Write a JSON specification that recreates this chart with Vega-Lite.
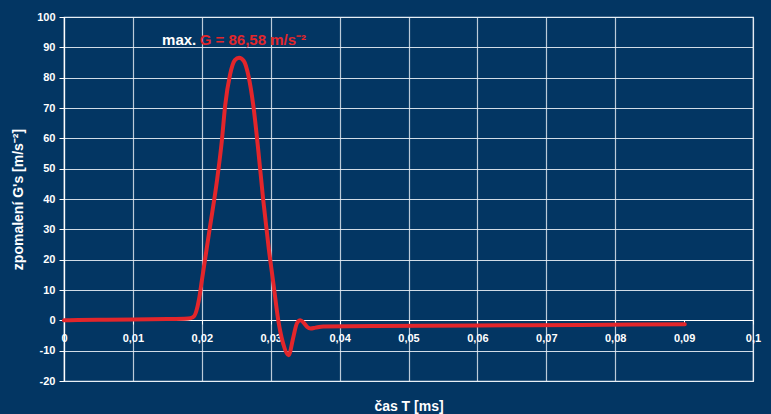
{
  "$schema": "https://vega.github.io/schema/vega-lite/v6.json",
  "width": 689,
  "height": 364,
  "autosize": {"type": "none"},
  "padding": {"left": 64, "top": 17, "right": 18, "bottom": 33},
  "background": "#033663",
  "config": {
    "font": "Liberation Sans",
    "view": {"stroke": "#e8eef5", "strokeWidth": 1.2},
    "axis": {
      "labelColor": "white",
      "labelFont": "Liberation Sans",
      "labelFontWeight": "bold",
      "labelFontSize": 11,
      "labelOverlap": false,
      "titleColor": "white",
      "titleFont": "Liberation Sans",
      "titleFontWeight": "bold",
      "titleFontSize": 14,
      "domainColor": "white",
      "domainWidth": 1.2,
      "tickColor": "white",
      "gridColor": "#e8eef5",
      "gridOpacity": 0.9,
      "gridWidth": 1.2
    }
  },
  "layer": [
    {
      "data": {
        "values": [
          {"t": 0, "g": 0},
          {"t": 0.002, "g": 0.1},
          {"t": 0.005, "g": 0.2},
          {"t": 0.01, "g": 0.3},
          {"t": 0.015, "g": 0.4},
          {"t": 0.018, "g": 0.6},
          {"t": 0.0187, "g": 1.0},
          {"t": 0.0192, "g": 3},
          {"t": 0.0196, "g": 7},
          {"t": 0.02, "g": 13},
          {"t": 0.0206, "g": 22},
          {"t": 0.0212, "g": 31},
          {"t": 0.0222, "g": 46},
          {"t": 0.0229, "g": 59},
          {"t": 0.0234, "g": 71},
          {"t": 0.0241, "g": 81},
          {"t": 0.0248, "g": 85.8},
          {"t": 0.0254, "g": 86.58},
          {"t": 0.0261, "g": 85.5},
          {"t": 0.0268, "g": 80.3},
          {"t": 0.0275, "g": 70.4},
          {"t": 0.0282, "g": 56},
          {"t": 0.0289, "g": 40},
          {"t": 0.0297, "g": 24},
          {"t": 0.0304, "g": 12},
          {"t": 0.0311, "g": 0},
          {"t": 0.0318, "g": -7.6},
          {"t": 0.0326, "g": -11.5},
          {"t": 0.0333, "g": -5.4},
          {"t": 0.0338, "g": -1},
          {"t": 0.0343, "g": 0},
          {"t": 0.0348, "g": -0.8},
          {"t": 0.0353, "g": -2.2},
          {"t": 0.0358, "g": -2.7},
          {"t": 0.0365, "g": -2.4},
          {"t": 0.0376, "g": -2.0},
          {"t": 0.045, "g": -1.9},
          {"t": 0.06, "g": -1.7},
          {"t": 0.075, "g": -1.5},
          {"t": 0.0901, "g": -1.3}
        ]
      },
      "mark": {"type": "line", "color": "#e3262b", "strokeWidth": 4, "interpolate": "monotone", "strokeCap": "round"},
      "encoding": {
        "x": {
          "field": "t",
          "type": "quantitative",
          "scale": {"domain": [0, 0.1], "nice": false},
          "axis": {
            "title": "čas T [ms]",
            "values": [0, 0.01, 0.02, 0.03, 0.04, 0.05, 0.06, 0.07, 0.08, 0.09, 0.1],
            "tickCount": 11,
            "labelExpr": "replace(format(datum.value, '~g'), '.', ',')",
            "offset": -61,
            "tickSize": 4,
            "labelPadding": 8,
            "labelFlush": false,
            "titleY": 86,
            "titleBaseline": "middle",
            "gridOpacity": {"condition": {"test": "abs(datum.value - 0.09) < 0.001", "value": 0}, "value": 0.9}
          }
        },
        "y": {
          "field": "g",
          "type": "quantitative",
          "scale": {"domain": [-20, 100], "nice": false},
          "axis": {
            "title": "zpomalení G's [m/s⁻²]",
            "values": [-20, -10, 0, 10, 20, 30, 40, 50, 60, 70, 80, 90, 100],
            "tickCount": 13,
            "labelExpr": "'' + datum.value",
            "tickSize": 5,
            "labelPadding": 4,
            "titleX": -46,
            "titleY": 182,
            "titleAngle": -90,
            "titleAlign": "center",
            "titleBaseline": "middle"
          }
        }
      }
    },
    {
      "data": {"values": [{"t": 0.0192, "g": 90.8, "label": "max."}]},
      "mark": {"type": "text", "align": "right", "baseline": "alphabetic", "color": "white", "fontSize": 15, "fontWeight": "bold"},
      "encoding": {
        "x": {"field": "t", "type": "quantitative"},
        "y": {"field": "g", "type": "quantitative"},
        "text": {"field": "label"}
      }
    },
    {
      "data": {"values": [{"t": 0.0197, "g": 90.8, "label": "G = 86,58 m/s⁻²"}]},
      "mark": {"type": "text", "align": "left", "baseline": "alphabetic", "color": "#e3262b", "fontSize": 15, "fontWeight": "bold"},
      "encoding": {
        "x": {"field": "t", "type": "quantitative"},
        "y": {"field": "g", "type": "quantitative"},
        "text": {"field": "label"}
      }
    }
  ]
}
